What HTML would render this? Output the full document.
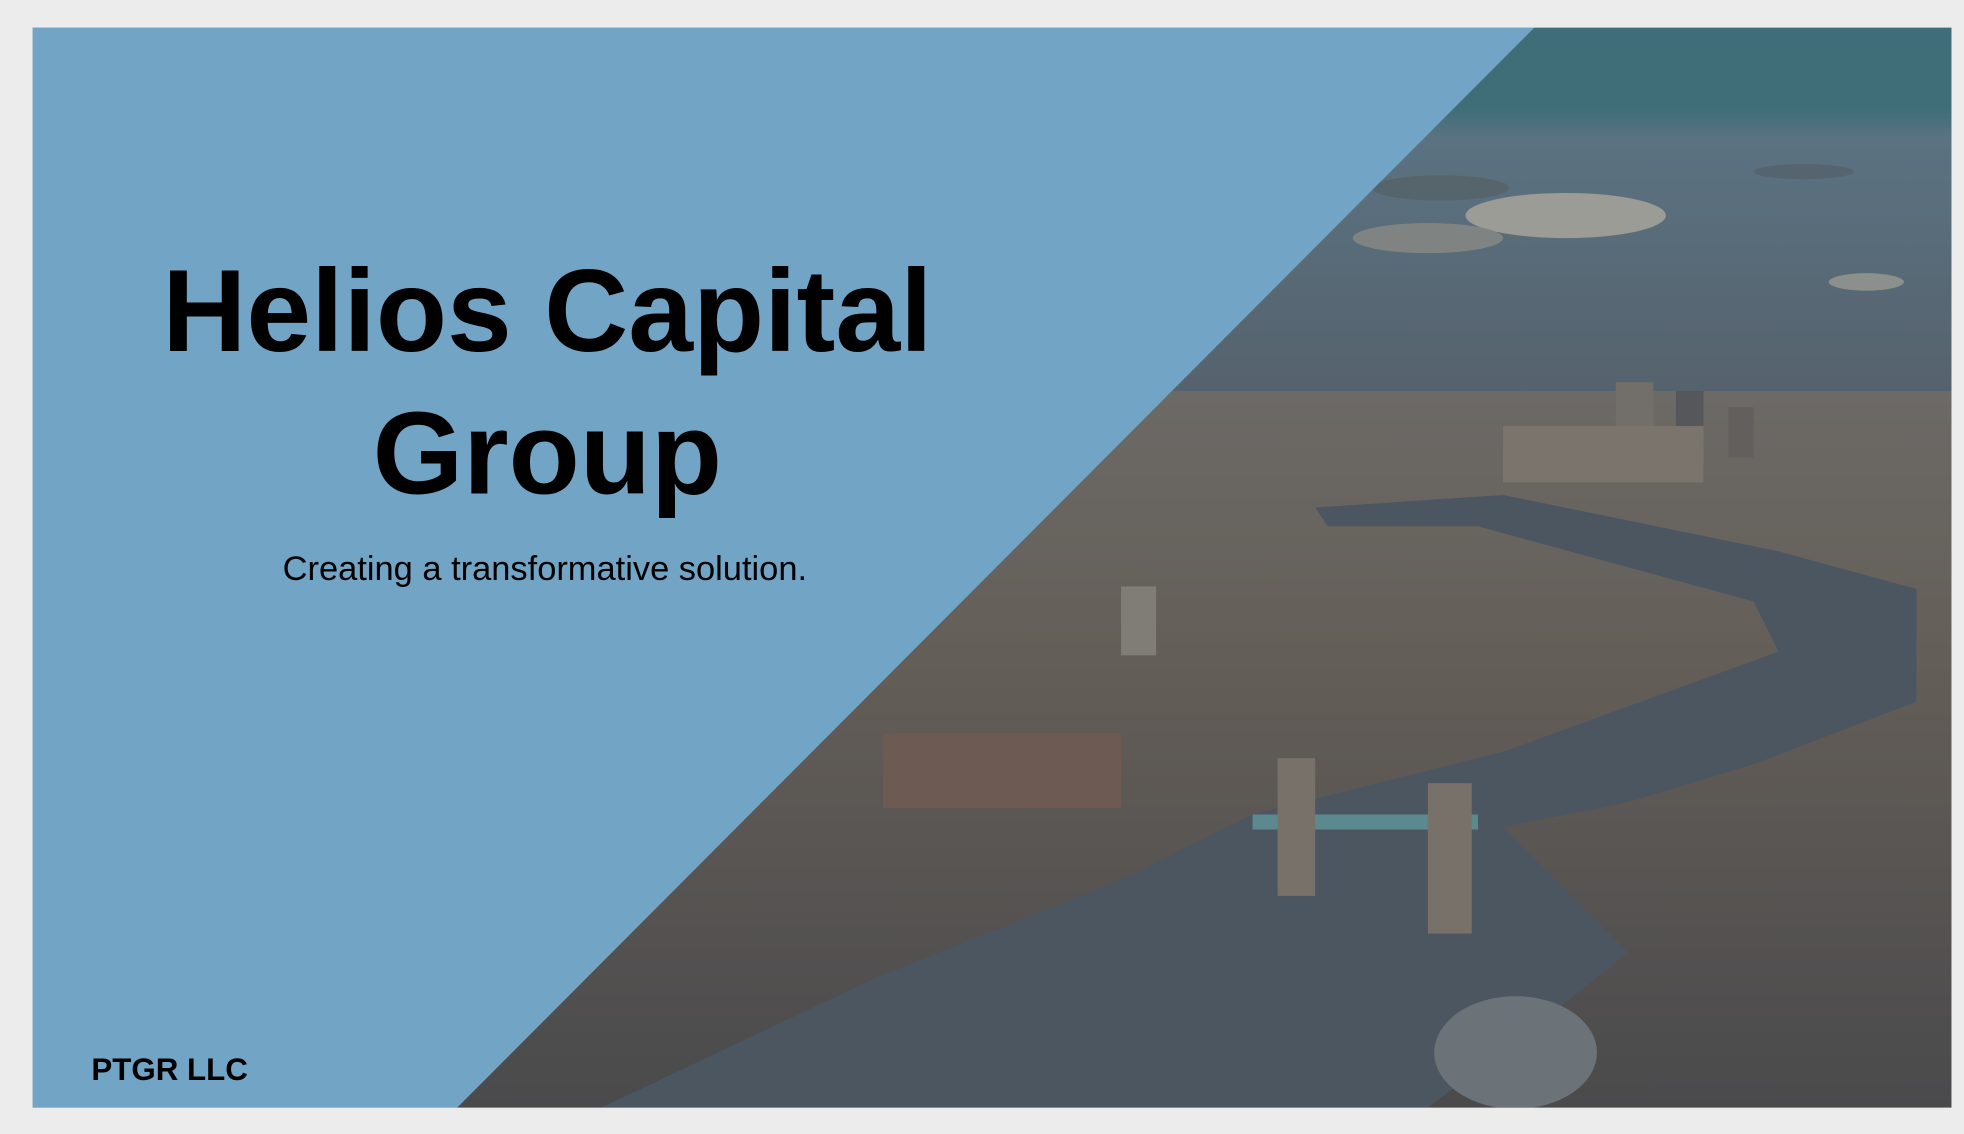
<!DOCTYPE html>
<html><head><meta charset="utf-8"><style>
html,body{margin:0;padding:0;background:#ececec;}
svg{display:block}
</style></head><body>
<svg width="1964" height="1134" viewBox="0 0 1568 905" preserveAspectRatio="none" xmlns="http://www.w3.org/2000/svg">
<defs>
<clipPath id="photoClip"><polygon points="1225,22 1558,22 1558,884 365,884"/></clipPath>
<linearGradient id="sky" x1="0" y1="0" x2="0" y2="1">
<stop offset="0" stop-color="#3f6e78"/><stop offset="0.22" stop-color="#3f6e78"/><stop offset="0.3" stop-color="#5b7282"/><stop offset="1" stop-color="#55626c"/></linearGradient>
<linearGradient id="city" x1="0" y1="0" x2="0" y2="1">
<stop offset="0" stop-color="#6c6a66"/><stop offset="0.4" stop-color="#635d57"/><stop offset="1" stop-color="#4a4a4c"/></linearGradient>
</defs>
<rect x="0" y="0" width="1568" height="905" fill="#ececec"/>
<rect x="26" y="22" width="1532" height="862" fill="#72a4c5"/>
<g clip-path="url(#photoClip)">
<rect x="360" y="22" width="1200" height="295" fill="url(#sky)"/>
<ellipse cx="1250" cy="172" rx="80" ry="18" fill="#9c9c96"/>
<ellipse cx="1150" cy="150" rx="55" ry="10" fill="#56646c"/>
<ellipse cx="1140" cy="190" rx="60" ry="12" fill="#7f8482"/>
<ellipse cx="1490" cy="225" rx="30" ry="7" fill="#8c908c"/>
<ellipse cx="1440" cy="137" rx="40" ry="6" fill="#55646e"/>
<rect x="360" y="312" width="1200" height="573" fill="url(#city)"/>
<rect x="1290" y="305" width="30" height="50" fill="#726f6a"/>
<rect x="1338" y="312" width="22" height="45" fill="#55575a"/>
<rect x="1380" y="325" width="20" height="40" fill="#625f5c"/>
<rect x="1200" y="340" width="160" height="45" fill="#7a746c"/>
<rect x="895" y="468" width="28" height="55" fill="#807c76"/>
<rect x="705" y="585" width="190" height="60" fill="#6d5a52"/>
<polygon fill="#4c5661" points="1050,405 1200,395 1420,440 1530,470 1530,560 1400,610 1300,640 1200,660 1300,760 1250,800 1140,884 480,884 700,780 900,700 1000,650 1200,600 1420,520 1400,480 1180,420 1060,420"/>
<rect x="1000" y="650" width="180" height="12" fill="#5a8990"/>
<rect x="1020" y="605" width="30" height="110" fill="#77716a"/>
<rect x="1140" y="625" width="35" height="120" fill="#77716a"/>
<ellipse cx="1210" cy="840" rx="65" ry="45" fill="#6b7278"/>
</g>
<text x="437" y="280" text-anchor="middle" font-family="Liberation Sans, sans-serif" font-weight="bold" font-size="93" fill="#000">Helios Capital</text>
<text x="437" y="394" text-anchor="middle" font-family="Liberation Sans, sans-serif" font-weight="bold" font-size="93" fill="#000">Group</text>
<text x="435" y="463" text-anchor="middle" font-family="Liberation Sans, sans-serif" font-size="27.5" fill="#000">Creating a transformative solution.</text>
<text x="73" y="862" font-family="Liberation Sans, sans-serif" font-weight="bold" font-size="25" fill="#000">PTGR LLC</text>
</svg>
</body></html>
